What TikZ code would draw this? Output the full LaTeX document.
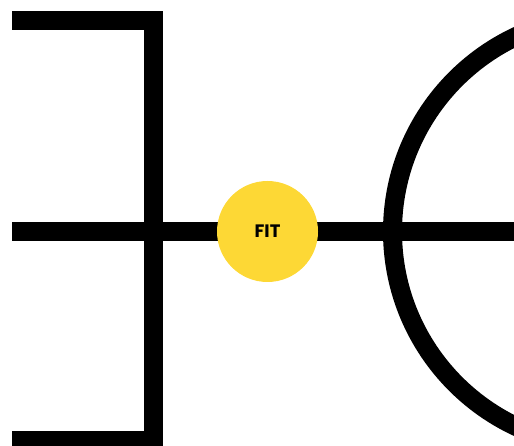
\documentclass[tikz,border=0pt]{standalone}
\usepackage{fontspec}
\setmainfont{Poppins}
\usepackage{tikz}
\usepackage{xcolor}
\definecolor{fityellow}{RGB}{253,216,53}

\begin{document}
\begin{tikzpicture}[x=1pt,y=-1pt,line width=19pt,line join=miter]
\useasboundingbox (0,0) rectangle (514,446);
\clip (0,0) rectangle (514,446);
\coordinate (L) at (12,231.5); \coordinate (C) at (267.5,231.5); \coordinate (R) at (530,231.5);
\draw (12,20.5) -- (153.5,20.5) -- (153.5,440.5) -- (12,440.5);
\draw (L) -- (C) -- (R);
\draw (608,231.5) circle (215.5);
\node[circle,fill=fityellow,minimum size=101pt,inner sep=0pt,outer sep=0pt,font=\fontsize{18}{21}\selectfont\bfseries] (fit) at (C) {FIT};
\end{tikzpicture}
\end{document}
